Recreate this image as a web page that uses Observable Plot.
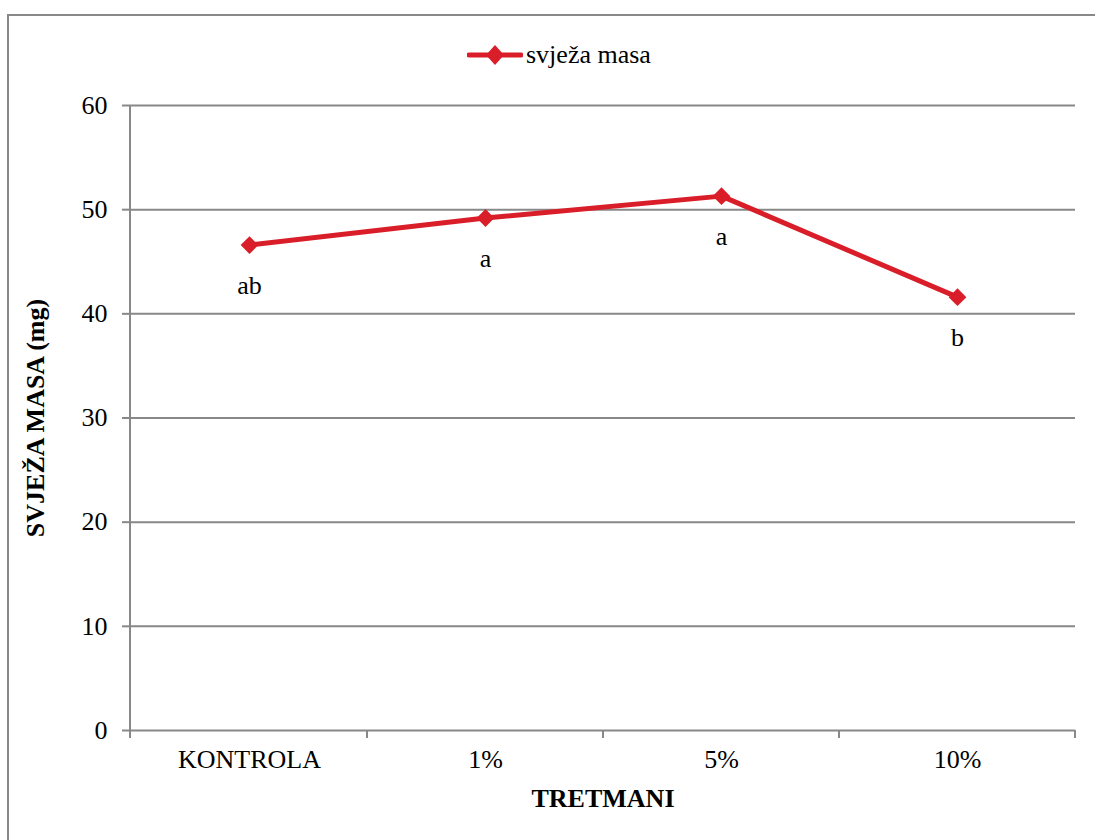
<!DOCTYPE html>
<html><head><meta charset="utf-8">
<script src="https://cdn.jsdelivr.net/npm/d3@7"></script>
<script src="https://cdn.jsdelivr.net/npm/@observablehq/plot@0.6"></script>
<style>
html,body{margin:0;padding:0;background:#fff;overflow:hidden}
#wrap{position:relative;width:1095px;height:840px;overflow:hidden;font-family:'Liberation Serif','Times New Roman',serif}
#frame{position:absolute;left:7px;top:14px;width:1200px;height:1000px;border:2px solid #888;box-sizing:border-box}
#chart{position:absolute;left:0;top:0}
#legend{position:absolute;left:467px;top:36px;height:38px;display:flex;align-items:center;font-family:'Liberation Serif';font-size:26px;color:#000}
#legend svg{margin-right:3px}
</style></head><body>
<div id="wrap"><div id="frame"></div><div id="chart"></div><div id="legend"></div></div>
<script>
const categories = ["KONTROLA", "1%", "5%", "10%"];
const values = [46.6, 49.2, 51.3, 41.6];
const letters = ["ab", "a", "a", "b"];
const yTicks = [0, 10, 20, 30, 40, 50, 60];
const seriesName = "svježa masa";
const xTitle = "TRETMANI";
const yTitle = "SVJEŽA MASA (mg)";

const data = categories.map((c, i) => ({tretman: c, masa: values[i], oznaka: letters[i]}));
const red = "#D91E2A";
const grey = "#888888";

// y-axis line and x boundary ticks, drawn from the scales
const axisLines = (index, scales, vals, dims) => {
  const g = d3.create("svg:g").attr("stroke", grey).attr("stroke-width", 2);
  const x = scales.x, y = scales.y;
  const left = dims.marginLeft, right = dims.width - dims.marginRight;
  const y0 = y(0);
  g.append("line").attr("x1", left).attr("x2", left).attr("y1", y(yTicks[yTicks.length - 1])).attr("y2", y0 + 8);
  const xs = categories.map(c => x(c)).concat([right]);
  g.selectAll("line.t").data(xs.slice(1)).join("line").attr("class", "t")
    .attr("x1", d => d).attr("x2", d => d).attr("y1", y0).attr("y2", y0 + 8);
  return g.node();
};

const chart = Plot.plot({
  width: 1095, height: 840,
  marginLeft: 130, marginRight: 20, marginTop: 105, marginBottom: 110,
  style: {fontFamily: "'Liberation Serif', 'Times New Roman', serif", fontSize: "26px", color: "#000", background: "transparent", overflow: "visible"},
  x: {type: "band", domain: categories, padding: 0},
  y: {domain: [0, 60]},
  marks: [
    Plot.ruleY(yTicks, {stroke: grey, strokeWidth: 2}),
    axisLines,
    Plot.axisY({ticks: yTicks, tickSize: 8, tickPadding: 15, stroke: grey, strokeWidth: 2, label: null, fontSize: 26}),
    Plot.axisX({tickSize: 0, tickPadding: 19, label: null, fontSize: 26}),
    Plot.text([xTitle], {frameAnchor: "bottom", dy: 76, fontWeight: "bold", fontSize: 26}),
    Plot.text([yTitle], {frameAnchor: "left", textAnchor: "middle", dx: -95, rotate: -90, fontWeight: "bold", fontSize: 26}),
    Plot.line(data, {x: "tretman", y: "masa", stroke: red, strokeWidth: 5}),
    Plot.dot(data, {x: "tretman", y: "masa", symbol: "diamond2", r: 8, fill: red}),
    Plot.text(data, {x: "tretman", y: "masa", text: "oznaka", dy: 41, fontSize: 26})
  ]
});
document.getElementById("chart").append(chart);

const legend = document.getElementById("legend");
legend.innerHTML = `<svg width="56" height="24"><line x1="2" x2="54" y1="12" y2="12" stroke="${red}" stroke-width="5" stroke-linecap="round"/><path d="M28,2 L37,12 L28,22 L19,12 Z" fill="${red}"/></svg><span>${seriesName}</span>`;
</script>
</body></html>
